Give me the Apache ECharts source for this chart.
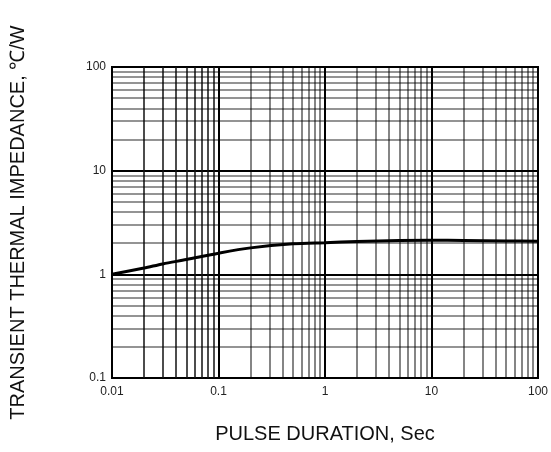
<!DOCTYPE html>
<html>
<head>
<meta charset="utf-8">
<script src="https://cdn.jsdelivr.net/npm/echarts@6/dist/echarts.min.js"></script>
<style>
* { margin: 0; padding: 0; }
#chart { width: 551px; height: 452px; background: #fff; }
</style>
</head>
<body>
<div id="chart"></div>
<script>
// pulse duration (s) and transient thermal impedance (C/W)
const pulseSec = [0.01, 0.02, 0.03, 0.05, 0.1, 0.2, 0.5, 1, 2, 5, 10, 20, 50, 100]
const impedance = [1.0, 1.15, 1.26, 1.39, 1.6, 1.8, 1.97, 2.02, 2.07, 2.12, 2.13, 2.12, 2.1, 2.08]

const xTicks = ['0.01', '0.1', '1', '10', '100']
const yTicks = ['0.1', '1', '10', '100']

// minor grid positions
const xMinorDark = [0.02, 0.03, 0.04, 0.05, 0.06, 0.07, 0.08, 0.09]
const xMinorLight = [0.2, 0.3, 0.4, 0.5, 0.6, 0.7, 0.8, 0.9, 2, 3, 4, 5, 6, 7, 8, 9, 20, 30, 40, 50, 60, 70, 80, 90]
const yMinor = [0.2, 0.3, 0.4, 0.5, 0.6, 0.7, 0.8, 0.9, 2, 3, 4, 5, 6, 7, 8, 9, 20, 30, 40, 50, 60, 70, 80, 90]

const chart = echarts.init(document.getElementById('chart'), null, { renderer: 'canvas' })

const gridLines = []
xMinorDark.forEach(v => gridLines.push({ xAxis: v, lineStyle: { color: '#111', width: 1.5, type: 'solid' } }))
xMinorLight.forEach(v => gridLines.push({ xAxis: v, lineStyle: { color: 'rgba(0,0,0,0.48)', width: 2, type: 'solid' } }))
yMinor.forEach(v => gridLines.push({ yAxis: v, lineStyle: { color: 'rgba(0,0,0,0.42)', width: 2, type: 'solid' } }))

const pick = (list, v) => list.find(t => Math.abs(+t - v) < 1e-9 * Math.max(1, v)) || String(+v.toPrecision(3))

const option = {
  animation: false,
  backgroundColor: '#fff',
  textStyle: { fontFamily: 'Liberation Sans' },
  grid: {
    left: 112,
    right: 13,
    top: 67,
    bottom: 74,
    show: true,
    borderColor: '#000',
    borderWidth: 2
  },
  xAxis: {
    type: 'log',
    logBase: 10,
    min: 0.01,
    max: 100,
    name: 'PULSE DURATION, Sec',
    nameLocation: 'middle',
    nameGap: 46,
    nameTextStyle: { fontSize: 20, color: '#111', fontFamily: 'Liberation Sans' },
    axisLine: { show: true, lineStyle: { color: '#000', width: 2 } },
    axisTick: { show: false },
    axisLabel: { color: '#222', fontSize: 12, margin: 8, formatter: v => pick(xTicks, v) },
    splitLine: { show: true, lineStyle: { color: '#000', width: 2 } }
  },
  yAxis: {
    type: 'log',
    logBase: 10,
    min: 0.1,
    max: 100,
    name: 'TRANSIENT THERMAL IMPEDANCE, \u2103/W',
    nameLocation: 'middle',
    nameGap: 84,
    nameRotate: 90,
    nameTextStyle: { fontSize: 20, color: '#111', fontFamily: 'Liberation Sans' },
    axisLine: { show: true, lineStyle: { color: '#000', width: 2 } },
    axisTick: { show: false },
    axisLabel: { color: '#222', fontSize: 12, margin: 6, formatter: v => pick(yTicks, v) },
    splitLine: { show: true, lineStyle: { color: '#000', width: 2 } }
  },
  series: [
    {
      type: 'line',
      data: pulseSec.map((x, i) => [x, impedance[i]]),
      smooth: 0.3,
      symbol: 'none',
      lineStyle: { color: '#000', width: 3 },
      z: 5,
      markLine: {
        silent: true,
        symbol: 'none',
        label: { show: false },
        animation: false,
        data: gridLines,
        z: 1
      }
    }
  ]
}

chart.setOption(option)
</script>
</body>
</html>
